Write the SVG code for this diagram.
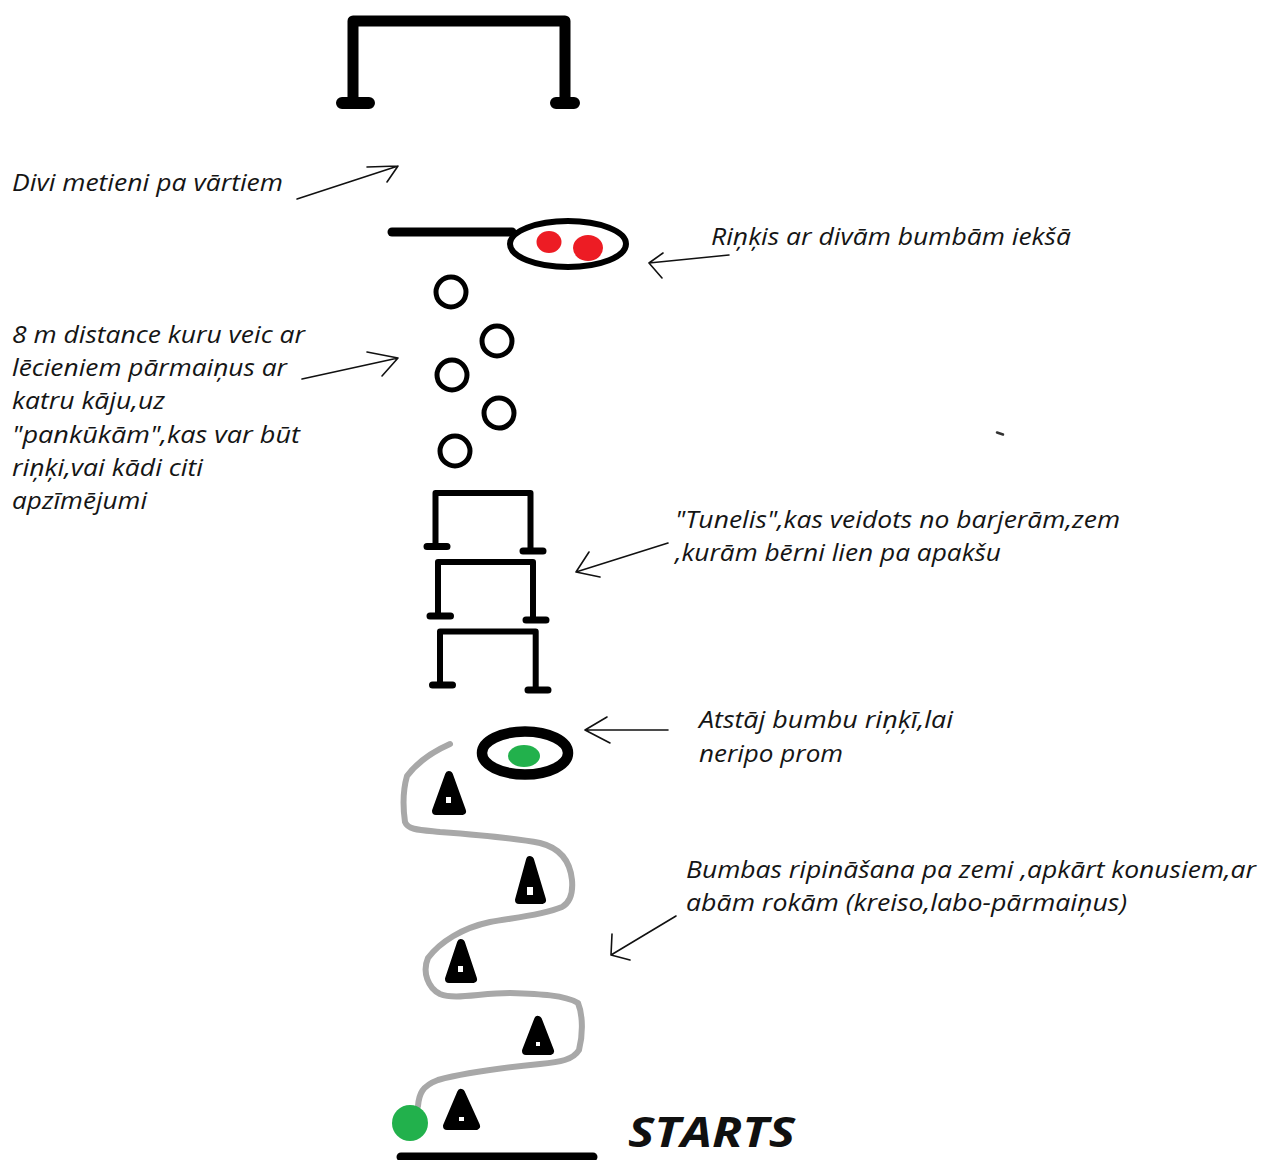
<svg xmlns="http://www.w3.org/2000/svg" width="1276" height="1160" viewBox="0 0 1276 1160">
  <style>
    .lbl { font-family: "Open Sans", "Noto Sans", "DejaVu Sans", sans-serif; font-style: italic; font-size: 23px; fill: #151515; }
    .start { font-family: "Open Sans", "Noto Sans", "DejaVu Sans", sans-serif; font-style: italic; font-weight: bold; font-size: 41px; fill: #101010; }
    .bar { fill: none; stroke: #000; stroke-linecap: round; stroke-linejoin: round; }
    .ring { fill: none; stroke: #000; }
    .cone { fill: #000; stroke: #000; stroke-width: 8; stroke-linejoin: round; }
    .hole { fill: #fff; }
    .arrow { fill: none; stroke: #111; stroke-width: 1.6; stroke-linecap: round; stroke-linejoin: round; }
    .track { fill: none; stroke: #a8a8a8; stroke-width: 6; stroke-linecap: round; stroke-linejoin: round; }
  </style>
  <rect width="1276" height="1160" fill="#fff"/>

  <!-- goal at the far end -->
  <g id="goal">
    <path class="bar" stroke-width="11" d="M353,98 V21 H565 V98"/>
    <path class="bar" stroke-width="12" d="M342,103 H369 M556,103 H574"/>
  </g>

  <!-- hoop with two red balls -->
  <g id="hoop-red">
    <path class="bar" stroke-width="9" d="M392,232 H512"/>
    <ellipse class="ring" stroke-width="6" cx="568" cy="244" rx="58" ry="23"/>
    <ellipse cx="549" cy="242" rx="12.5" ry="11" fill="#ed1c24"/>
    <ellipse cx="588" cy="248" rx="15" ry="13" fill="#ed1c24"/>
  </g>

  <!-- pancakes for the jumps -->
  <g id="pancakes" fill="none" stroke="#000" stroke-width="5">
    <circle cx="451" cy="292" r="15"/>
    <circle cx="497" cy="341" r="15"/>
    <circle cx="452" cy="375" r="15"/>
    <circle cx="499" cy="413" r="15"/>
    <circle cx="455" cy="451" r="15"/>
  </g>

  <!-- tunnel of hurdles -->
  <g id="hurdle-1">
    <path class="bar" stroke-width="6" stroke-linecap="butt" stroke-linejoin="miter" d="M435.5,546 V493 H530.5 V551"/>
    <path class="bar" stroke-width="7" stroke-linecap="butt" d="M427,546.5 H447 M523,551 H543"/>
  </g>
  <g id="hurdle-2">
    <path class="bar" stroke-width="6" stroke-linecap="butt" stroke-linejoin="miter" d="M438,616 V562 H533 V620"/>
    <path class="bar" stroke-width="7" stroke-linecap="butt" d="M430,616 H450.5 M526,620 H546"/>
  </g>
  <g id="hurdle-3">
    <path class="bar" stroke-width="6" stroke-linecap="butt" stroke-linejoin="miter" d="M440,685 V631.5 H535.7 V690"/>
    <path class="bar" stroke-width="7" stroke-linecap="butt" d="M432.5,685 H452.5 M528,690 H548"/>
  </g>

  <!-- hoop with the green ball -->
  <g id="hoop-green">
    <ellipse class="ring" stroke-width="10.5" cx="525" cy="753" rx="43" ry="21.5"/>
    <ellipse cx="524" cy="756" rx="16" ry="11" fill="#22b14c"/>
  </g>

  <!-- dribbling track around the cones -->
  <g id="track">
    <path class="track" d="M450,744 C432,752 416,764 407,776 C403,790 403,808 405,822 C408,830 420,830 440,832 C480,835 515,838 540,843 C560,848 570,860 572,880 C573,892 571,902 562,907 C540,916 510,918 490,922 C462,928 440,942 428,958 C422,972 428,988 440,994 C455,1000 480,993 510,993 C540,994 565,995 578,1003 C583,1015 583,1035 579,1050 C573,1060 560,1062 540,1064 C500,1068 460,1074 438,1080 C422,1086 419,1094 418,1106"/>
  </g>

  <!-- cones -->
  <g id="cone-1">
    <path class="cone" d="M449,775 L462,811 L436,811 Z"/>
    <rect class="hole" x="446" y="797" width="5" height="6"/>
  </g>
  <g id="cone-2">
    <path class="cone" d="M530,860 L542,900 L519,900 Z"/>
    <rect class="hole" x="527" y="887" width="6" height="8"/>
  </g>
  <g id="cone-3">
    <path class="cone" d="M461,943 L473,979 L449,979 Z"/>
    <rect class="hole" x="458" y="966" width="5" height="6"/>
  </g>
  <g id="cone-4">
    <path class="cone" d="M538,1020 L550,1051 L526,1051 Z"/>
    <rect class="hole" x="536" y="1042" width="4" height="4"/>
  </g>
  <g id="cone-5">
    <path class="cone" d="M461,1093 L476,1126 L447,1126 Z"/>
    <rect class="hole" x="459" y="1117" width="5" height="4"/>
  </g>

  <!-- start: ball and line -->
  <g id="start">
    <circle cx="410" cy="1123" r="18" fill="#22b14c"/>
    <path class="bar" stroke-width="9" d="M401,1157 H593"/>
    <text class="start" x="628" y="1147" textLength="167" lengthAdjust="spacingAndGlyphs">STARTS</text>
  </g>

  <!-- stray mark -->
  <path d="M997,432.5 L1003,434.5" stroke="#333" stroke-width="2.5" stroke-linecap="round"/>

  <!-- labels -->
  <g id="label-throws">
    <text class="lbl" x="12" y="191" textLength="271" lengthAdjust="spacingAndGlyphs">Divi metieni pa vārtiem</text>
  </g>
  <g id="label-jumps">
    <text class="lbl" x="12" y="343" textLength="293" lengthAdjust="spacingAndGlyphs">8 m distance kuru veic ar</text>
    <text class="lbl" x="12" y="376" textLength="275" lengthAdjust="spacingAndGlyphs">lēcieniem pārmaiņus ar</text>
    <text class="lbl" x="12" y="409" textLength="153" lengthAdjust="spacingAndGlyphs">katru kāju,uz</text>
    <text class="lbl" x="12" y="443" textLength="288" lengthAdjust="spacingAndGlyphs">"pankūkām",kas var būt</text>
    <text class="lbl" x="12" y="476" textLength="191" lengthAdjust="spacingAndGlyphs">riņķi,vai kādi citi</text>
    <text class="lbl" x="12" y="509" textLength="135" lengthAdjust="spacingAndGlyphs">apzīmējumi</text>
  </g>
  <g id="label-hoop">
    <text class="lbl" x="711" y="245" textLength="360" lengthAdjust="spacingAndGlyphs">Riņķis ar divām bumbām iekšā</text>
  </g>
  <g id="label-tunnel">
    <text class="lbl" x="675" y="528" textLength="445" lengthAdjust="spacingAndGlyphs">"Tunelis",kas veidots no barjerām,zem</text>
    <text class="lbl" x="675" y="561" textLength="326" lengthAdjust="spacingAndGlyphs">,kurām bērni lien pa apakšu</text>
  </g>
  <g id="label-leave">
    <text class="lbl" x="699" y="728" textLength="254" lengthAdjust="spacingAndGlyphs">Atstāj bumbu riņķī,lai</text>
    <text class="lbl" x="699" y="762" textLength="144" lengthAdjust="spacingAndGlyphs">neripo prom</text>
  </g>
  <g id="label-dribble">
    <text class="lbl" x="686" y="878" textLength="570" lengthAdjust="spacingAndGlyphs">Bumbas ripināšana pa zemi ,apkārt konusiem,ar</text>
    <text class="lbl" x="686" y="911" textLength="441" lengthAdjust="spacingAndGlyphs">abām rokām (kreiso,labo-pārmaiņus)</text>
  </g>

  <!-- pointer arrows -->
  <g id="connectors">
    <path class="arrow" d="M297,199 L398,166 M367,167 L398,166 L387,182"/>
    <path class="arrow" d="M302,379 L398,358 M367,352 L398,358 L382,376"/>
    <path class="arrow" d="M729,255 L649,263 M663,253 L649,263 L662,278"/>
    <path class="arrow" d="M668,543 L576,572 M589,552 L576,572 L600,577"/>
    <path class="arrow" d="M668,730 L585,730 M607,717 L585,730 L610,743"/>
    <path class="arrow" d="M676,916 L611,955 M612,934 L611,955 L630,960"/>
  </g>
</svg>
